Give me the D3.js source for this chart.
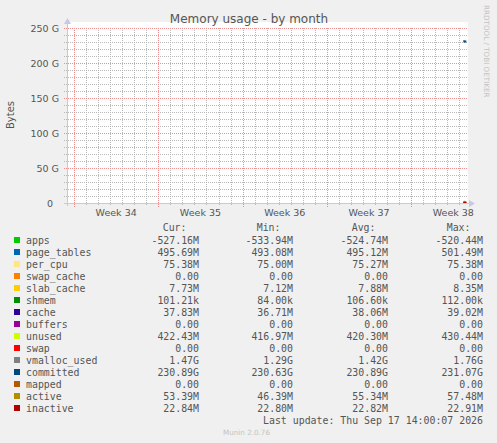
<!DOCTYPE html>
<html>
<head>
<meta charset="utf-8">
<script src="https://cdn.jsdelivr.net/npm/d3@7"></script>
<style>
  html, body { margin: 0; padding: 0; background: #f0f0f0; }
  svg { display: block; }
</style>
</head>
<body>
<div id="chart"></div>
<script>
// ---- data ----
var title = 'Memory usage - by month';
var yTicks = [0, 50, 100, 150, 200, 250];           // GiB
var timeStart = Date.UTC(2026, 7, 16, 10, 0);        // left edge of the plot
var timeEnd = Date.UTC(2026, 8, 18, 15, 20);         // right edge of the plot
var sampleTimes = [
  Date.UTC(2026, 8, 18, 8, 0), Date.UTC(2026, 8, 18, 10, 0),
  Date.UTC(2026, 8, 18, 12, 0), Date.UTC(2026, 8, 18, 14, 0)
];

var fieldNames = ['apps', 'page_tables', 'per_cpu', 'swap_cache', 'slab_cache', 'shmem', 'cache',
  'buffers', 'unused', 'swap', 'vmalloc_used', 'committed', 'mapped', 'active', 'inactive'];
var fieldColors = ['#00cc00', '#0066b3', '#ffe680', '#ff8000', '#ffcc00', '#008f00', '#330099',
  '#990099', '#ccff00', '#ff0000', '#808080', '#00487d', '#b35a00', '#b38f00', '#b30000'];
// stacked areas for the first ten, lines for the rest
var fieldDraw = ['area', 'area', 'area', 'area', 'area', 'area', 'area',
  'area', 'area', 'area', 'line', 'line', 'line', 'line', 'line'];

// samples in GiB
var apps = [-0.497, -0.489, -0.491, -0.491];
var pageTables = [0.459, 0.467, 0.461, 0.462];
var perCpu = [0.0699, 0.0701, 0.0702, 0.0702];
var swapCache = [0, 0, 0, 0];
var slabCache = [0.0066, 0.0078, 0.0072, 0.0072];
var shmem = [0.0001, 0.0001, 0.0001, 0.0001];
var cache = [0.0342, 0.0363, 0.0355, 0.0352];
var buffers = [0, 0, 0, 0];
var unused = [0.3883, 0.3974, 0.3924, 0.3934];
var swap = [0, 0, 0, 0];
var vmallocUsed = [1.29, 1.76, 1.42, 1.47];
var committed = [230.63, 231.07, 230.89, 230.89];
var mapped = [0, 0, 0, 0];
var active = [0.0432, 0.0535, 0.0515, 0.0497];
var inactive = [0.0212, 0.0213, 0.0213, 0.0213];
var fieldValues = [apps, pageTables, perCpu, swapCache, slabCache, shmem, cache, buffers,
  unused, swap, vmallocUsed, committed, mapped, active, inactive];

var legendCur = ['-527.16M', '495.69M', '75.38M', '0.00', '7.73M', '101.21k', '37.83M', '0.00',
  '422.43M', '0.00', '1.47G', '230.89G', '0.00', '53.39M', '22.84M'];
var legendMin = ['-533.94M', '493.08M', '75.00M', '0.00', '7.12M', '84.00k', '36.71M', '0.00',
  '416.97M', '0.00', '1.29G', '230.63G', '0.00', '46.39M', '22.80M'];
var legendAvg = ['-524.74M', '495.12M', '75.27M', '0.00', '7.88M', '106.60k', '38.06M', '0.00',
  '420.30M', '0.00', '1.42G', '230.89G', '0.00', '55.34M', '22.82M'];
var legendMax = ['-520.44M', '501.49M', '75.38M', '0.00', '8.35M', '112.00k', '39.02M', '0.00',
  '430.44M', '0.00', '1.76G', '231.07G', '0.00', '57.48M', '22.91M'];
var legendHeaders = ['Cur:', 'Min:', 'Avg:', 'Max:'];
var lastUpdate = 'Last update: Thu Sep 17 14:00:07 2026';

// ---- drawing ----
var width = 497, height = 443;
var plotLeft = 67, plotRight = 467, plotTop = 28, plotBottom = 203;
var sans = '"DejaVu Sans", sans-serif';
var mono = '"DejaVu Sans Mono", monospace';

var svg = d3.select('#chart').append('svg')
  .attr('width', width)
  .attr('height', height)
  .attr('font-family', sans);

svg.append('rect').attr('width', width).attr('height', height).attr('fill', '#f0f0f0');
svg.append('rect')
  .attr('x', plotLeft).attr('y', plotTop - 6)
  .attr('width', plotRight - plotLeft + 1).attr('height', plotBottom - plotTop + 6)
  .attr('fill', '#ffffff');

var x = d3.scaleUtc().domain([new Date(timeStart), new Date(timeEnd)]).range([plotLeft, plotRight]);
var y = d3.scaleLinear().domain([0, 250]).range([plotBottom, plotTop]);

// grid: rrdtool draws 1-on-1-off dotted lines, here built as one-pixel squares
var minorDays = d3.utcDay.range(x.domain()[0], x.domain()[1]);
var majorWeeks = d3.utcMonday.range(x.domain()[0], x.domain()[1]);
var minorY = d3.range(0, 251, 10).filter(function(v) { return yTicks.indexOf(v) < 0; });
var minorX = minorDays.filter(function(d) { return d.getUTCDay() != 1; });

function vDots(xs, y1, y2) {
  var p = '';
  xs.forEach(function(d) {
    var px = Math.round(x(d));
    for (var yy = y1; yy <= y2; yy += 2) p += 'M' + px + ',' + yy + 'h1v1h-1z';
  });
  return p;
}
function hDots(vs, x1, x2) {
  var p = '';
  vs.forEach(function(v) {
    var py = Math.round(y(v));
    for (var xx = x1; xx <= x2; xx += 2) p += 'M' + xx + ',' + py + 'h1v1h-1z';
  });
  return p;
}

var grid = svg.append('g').attr('shape-rendering', 'crispEdges');
grid.append('path').attr('fill', '#b8b8b8').attr('d', vDots(minorX, plotTop, plotBottom + 2));
grid.append('path').attr('fill', '#b8b8b8').attr('d', hDots(minorY, plotLeft - 3, plotRight));
grid.append('path').attr('fill', '#eb9090').attr('d', vDots(majorWeeks, plotTop, plotBottom + 3));
grid.append('path').attr('fill', '#eb9090').attr('d', hDots(yTicks, plotLeft - 3, plotRight));

// stacked areas (rrdtool STACK: each area sits on the running sum)
var runningSum = sampleTimes.map(function() { return 0; });
fieldNames.forEach(function(name, i) {
  if (fieldDraw[i] != 'area') return;
  var rows = sampleTimes.map(function(t, j) {
    var base = runningSum[j];
    runningSum[j] = base + fieldValues[i][j];
    return { t: t, y0: base, y1: runningSum[j] };
  });
  svg.append('path').datum(rows)
    .attr('fill', fieldColors[i])
    .attr('d', d3.area()
      .x(function(d) { return x(new Date(d.t)); })
      .y0(function(d) { return y(d.y0); })
      .y1(function(d) { return y(d.y1); }));
});

fieldNames.forEach(function(name, i) {
  if (fieldDraw[i] != 'line') return;
  svg.append('path').datum(fieldValues[i])
    .attr('fill', 'none')
    .attr('stroke', fieldColors[i])
    .attr('stroke-width', 2)
    .attr('d', d3.line()
      .x(function(d, j) { return x(new Date(sampleTimes[j])); })
      .y(function(d) { return y(d); }));
});

// axes with arrows
var axisColor = '#c6c8ea';
svg.append('line').attr('x1', plotLeft + 0.5).attr('x2', plotLeft + 0.5)
  .attr('y1', plotBottom + 3).attr('y2', plotTop - 5)
  .attr('stroke', axisColor);
svg.append('line').attr('x1', plotLeft - 3).attr('x2', plotRight + 5)
  .attr('y1', plotBottom + 0.5).attr('y2', plotBottom + 0.5)
  .attr('stroke', axisColor);
svg.append('path')
  .attr('d', 'M' + (plotLeft - 3) + ',' + (plotTop - 4) + 'L' + (plotLeft + 0.5) + ',' + (plotTop - 10) + 'L' + (plotLeft + 4) + ',' + (plotTop - 4) + 'Z')
  .attr('fill', axisColor);
svg.append('path')
  .attr('d', 'M' + (plotRight + 2) + ',' + (plotBottom - 3) + 'L' + (plotRight + 8) + ',' + (plotBottom + 0.5) + 'L' + (plotRight + 2) + ',' + (plotBottom + 4) + 'Z')
  .attr('fill', axisColor);

// y labels
var yAxis = d3.axisLeft(y).tickValues(yTicks).tickSize(0).tickPadding(0)
  .tickFormat(function(d) { return d === 0 ? '0\u00a0\u00a0' : d + ' G'; });
var yG = svg.append('g').attr('transform', 'translate(' + 59 + ',0)').call(yAxis);
yG.select('.domain').remove();
yG.attr('font-family', sans).attr('font-size', 9.5);
yG.selectAll('text').attr('fill', '#555');

// week labels centred in each week (half a week after the Monday line)
var weekFmt = d3.utcFormat('Week %V');
var halfWeek = 3.5 * 864e5;
svg.append('g').selectAll('text').data(majorWeeks).enter().append('text')
  .attr('x', function(d) { return x(new Date(+d + halfWeek)); })
  .attr('y', 216)
  .attr('text-anchor', 'middle')
  .attr('font-size', 9.5).attr('fill', '#555')
  .text(function(d) { return weekFmt(d); });

svg.append('text')
  .attr('x', 249).attr('y', 23)
  .attr('text-anchor', 'middle')
  .attr('font-size', 12).attr('fill', '#555')
  .text(title);

svg.append('text')
  .attr('transform', 'translate(14,115) rotate(-90)')
  .attr('text-anchor', 'middle')
  .attr('font-size', 10).attr('fill', '#555')
  .text('Bytes');

svg.append('text')
  .attr('transform', 'translate(484,5) rotate(90)')
  .attr('font-size', 7.2).attr('fill', '#c4c4c4')
  .text('RRDTOOL / TOBI OETIKER');

// legend
var colEnds = [199, 293, 388, 483];
var legend = svg.append('g')
  .attr('font-family', mono)
  .attr('font-size', 9.9).attr('fill', '#555');
legend.selectAll('.hdr').data(legendHeaders).enter().append('text')
  .attr('x', function(d, i) { return colEnds[i] - 12.5; })
  .attr('y', 231).attr('text-anchor', 'end')
  .text(function(d) { return d; });

var rows = legend.selectAll('.row').data(fieldNames).enter().append('g')
  .attr('transform', function(d, i) { return 'translate(0,' + (240 + i * 12) + ')'; });
rows.append('rect')
  .attr('x', 14).attr('y', -3).attr('width', 6).attr('height', 6)
  .attr('fill', function(d, i) { return fieldColors[i]; });
rows.append('text').attr('x', 26).attr('y', 3.5).text(function(d) { return d; });
[legendCur, legendMin, legendAvg, legendMax].forEach(function(col, c) {
  rows.append('text')
    .attr('x', colEnds[c]).attr('y', 3.5).attr('text-anchor', 'end')
    .text(function(d, i) { return col[i]; });
});

legend.append('text')
  .attr('x', 483).attr('y', 423.5).attr('text-anchor', 'end')
  .text(lastUpdate);

svg.append('text')
  .attr('x', 223).attr('y', 434.5)
  .attr('font-size', 7.2).attr('fill', '#c4c4c4')
  .text('Munin 2.0.76');
</script>
</body>
</html>
